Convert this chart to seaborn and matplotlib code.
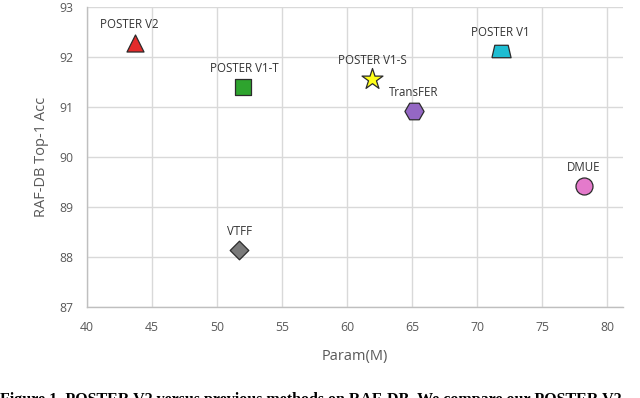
import matplotlib
matplotlib.use("Agg")
import matplotlib.pyplot as plt
import seaborn as sns
import pandas as pd

models = ["POSTER V2", "POSTER V1-T", "POSTER V1-S", "POSTER V1", "TransFER", "DMUE", "VTFF"]
params = [43.7, 52.0, 61.9, 71.8, 65.1, 78.2, 51.7]
acc = [92.28, 91.40, 91.56, 92.12, 90.92, 89.42, 88.14]
xticks = [40, 45, 50, 55, 60, 65, 70, 75, 80]
yticks = [87, 88, 89, 90, 91, 92, 93]

colors = {"POSTER V2": "#e32a2a", "POSTER V1-T": "#2ea42e", "POSTER V1-S": "#ffff1a",
          "POSTER V1": "#1ebdd2", "TransFER": "#9467c4", "DMUE": "#e47acb", "VTFF": "#7a7a7a"}
trap = [(-1.0, -0.65), (1.0, -0.65), (0.7, 0.65), (-0.7, 0.65), (-1.0, -0.65)]
markers = {"POSTER V2": "^", "POSTER V1-T": "s", "POSTER V1-S": "*", "POSTER V1": trap,
           "TransFER": "H", "DMUE": "o", "VTFF": "D"}
sizes = {"POSTER V2": 150, "POSTER V1-T": 120, "POSTER V1-S": 250, "POSTER V1": 190,
         "TransFER": 190, "DMUE": 150, "VTFF": 90}
label_dx = {"POSTER V2": -4, "POSTER V1-T": 1, "POSTER V1-S": 0, "POSTER V1": 0,
            "TransFER": 0, "DMUE": 0, "VTFF": 0}

df = pd.DataFrame({"model": models, "param": params, "acc": acc})

sns.set_theme(style="white")
plt.rcParams["font.family"] = ["Open Sans", "DejaVu Sans"]

fig = plt.figure(figsize=(6.4, 3.98), dpi=100)
ax = fig.add_axes([87 / 640, 1 - 307 / 398, (623 - 87) / 640, 300 / 398])

for m in models:
    sub = df[df.model == m]
    sns.scatterplot(data=sub, x="param", y="acc", ax=ax, color=colors[m],
                    marker=markers[m], s=sizes[m], edgecolor="#2b2b2b",
                    linewidth=0.9, legend=False, zorder=3)

for m, x, y in zip(models, params, acc):
    ax.annotate(m, (x, y), xytext=(label_dx[m], 13), textcoords="offset points",
                ha="center", va="center", fontsize=8.3, color="#333333", zorder=4)

ax.set_xlim(40, 81.2)
ax.set_ylim(87, 93)
ax.set_xticks(xticks)
ax.set_yticks(yticks)
ax.grid(True, color="#d9d9d9", linewidth=1.0)
ax.set_axisbelow(True)
for s in ["top", "right"]:
    ax.spines[s].set_visible(False)
for s in ["left", "bottom"]:
    ax.spines[s].set_color("#bfbfbf")
    ax.spines[s].set_linewidth(1.0)
ax.tick_params(axis="both", length=0, labelsize=8.8, labelcolor="#595959", pad=10)
ax.set_xlabel("Param(M)", fontsize=10.5, color="#595959", labelpad=11)
ax.set_ylabel("RAF-DB Top-1 Acc", fontsize=10.5, color="#595959", labelpad=7)

fig.text(0.0, 1 - 392 / 398,
         "Figure 1. POSTER V2 versus previous methods on RAF-DB. We compare our POSTER V2",
         ha="left", va="top", fontsize=11.5, fontweight="bold",
         family=["Liberation Serif", "DejaVu Serif"], color="black")

fig.savefig("out.png", dpi=100)
